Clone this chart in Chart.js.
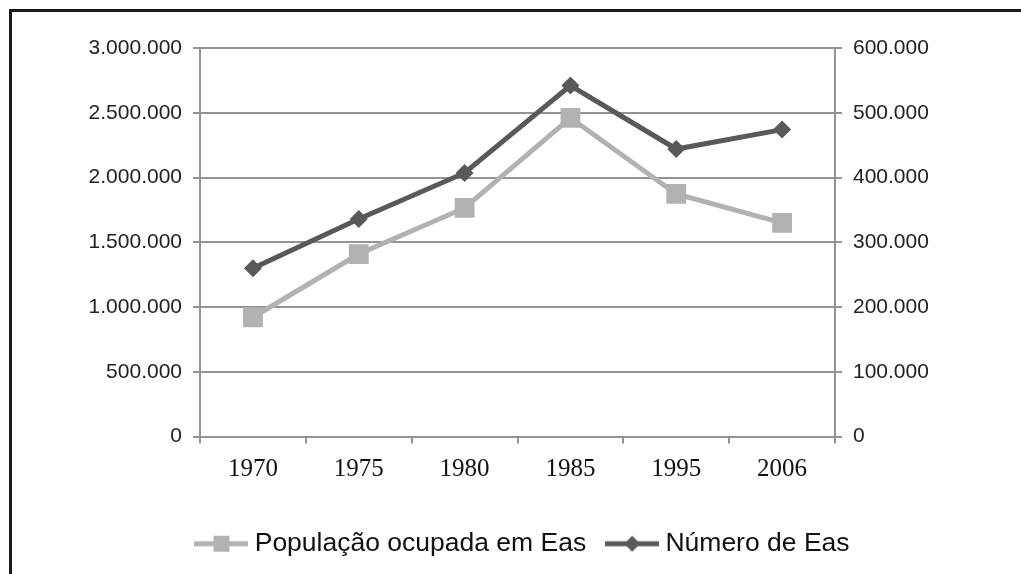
<!DOCTYPE html>
<html>
<head>
<meta charset="utf-8">
<script src="https://cdn.jsdelivr.net/npm/chart.js@4"></script>
<style>
  html, body { margin: 0; padding: 0; background: #fff; overflow: hidden; }
  #wrap { position: relative; width: 1021px; height: 574px; }
  #frame { position: absolute; left: 9px; top: 9px; width: 1100px; height: 700px; border: 3px solid #1a1a1a; pointer-events: none; }
</style>
</head>
<body>
<div id="wrap">
  <canvas id="graphic" width="1021" height="574"></canvas>
  <div id="frame"></div>
</div>
<script>
const years = ['1970', '1975', '1980', '1985', '1995', '2006'];
const populacaoOcupada = [921000, 1409000, 1765000, 2461000, 1873000, 1649000];
const numeroEas = [260000, 336000, 407000, 542000, 444000, 474000];

const lightGrey = '#b2b2b2';
const darkGrey = '#595959';
const gridGrey = '#939393';

const fmt = v => String(v).replace(/\B(?=(\d{3})+(?!\d))/g, '.');

// small line + marker pictures for the legend
function legendIcon(color, shape) {
  const c = document.createElement('canvas');
  c.width = 54; c.height = 20;
  const g = c.getContext('2d');
  g.strokeStyle = color; g.lineWidth = 5;
  g.beginPath(); g.moveTo(0, 10); g.lineTo(54, 10); g.stroke();
  g.fillStyle = color;
  g.beginPath();
  if (shape === 'square') {
    g.rect(19, 2, 16, 16);
  } else {
    g.moveTo(27, 2); g.lineTo(35, 10); g.lineTo(27, 18); g.lineTo(19, 10); g.closePath();
  }
  g.fill();
  return c;
}
const icons = [legendIcon(lightGrey, 'square'), legendIcon(darkGrey, 'diamond')];

const ctx = document.getElementById('graphic').getContext('2d');
new Chart(ctx, {
  type: 'line',
  data: {
    labels: years,
    datasets: [{
      label: 'População ocupada em Eas',
      data: populacaoOcupada,
      yAxisID: 'y',
      borderColor: lightGrey,
      backgroundColor: lightGrey,
      borderWidth: 5,
      pointStyle: 'rect',
      pointRadius: 14,
      pointBorderWidth: 0,
      tension: 0
    }, {
      label: 'Número de Eas',
      data: numeroEas,
      yAxisID: 'y2',
      borderColor: darkGrey,
      backgroundColor: darkGrey,
      borderWidth: 5,
      pointStyle: 'rectRot',
      pointRadius: 9,
      pointBorderWidth: 0,
      tension: 0
    }]
  },
  options: {
    responsive: false,
    animation: false,
    layout: { padding: { left: 30, right: 0, top: 48, bottom: 7 } },
    plugins: {
      tooltip: { enabled: false },
      legend: {
        position: 'bottom',
        labels: {
          usePointStyle: true,
          pointStyleWidth: 40,
          padding: 26,
          color: '#111',
          font: { family: 'Liberation Sans, Arial, sans-serif', size: 26.5 },
          generateLabels: chart => Chart.defaults.plugins.legend.labels.generateLabels(chart)
            .map((item, i) => ({ ...item, pointStyle: icons[i] }))
        }
      }
    },
    scales: {
      x: {
        offset: true,
        grid: { offset: true, drawOnChartArea: false, tickLength: 7, color: gridGrey, lineWidth: 2 },
        border: { color: gridGrey, width: 2 },
        ticks: { color: '#111', padding: 11, font: { family: 'Liberation Serif, Times New Roman, serif', size: 25 } },
        afterFit: scale => { scale.height = 68; }
      },
      y: {
        position: 'left',
        min: 0,
        max: 3000000,
        ticks: { stepSize: 500000, padding: 11, color: '#222', callback: fmt,
          font: { family: 'Liberation Sans, Arial, sans-serif', size: 21 } },
        grid: { color: gridGrey, lineWidth: 2, tickLength: 7 },
        border: { color: gridGrey, width: 2 },
        afterFit: scale => { scale.width = 170; }
      },
      y2: {
        position: 'right',
        min: 0,
        max: 600000,
        ticks: { stepSize: 100000, padding: 11, color: '#222', callback: fmt,
          font: { family: 'Liberation Sans, Arial, sans-serif', size: 21 } },
        grid: { drawOnChartArea: false, color: gridGrey, lineWidth: 2, tickLength: 7 },
        border: { color: gridGrey, width: 2 },
        afterFit: scale => { scale.width = 186; }
      }
    }
  }
});
</script>
</body>
</html>
